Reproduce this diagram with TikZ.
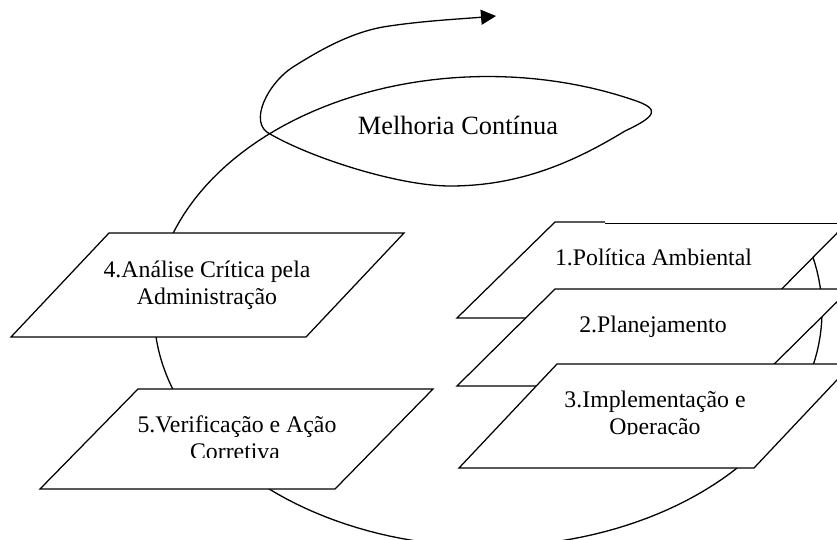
\documentclass[tikz,border=0pt]{standalone}
\usepackage{fontspec}
\setmainfont{Liberation Serif}
\usetikzlibrary{arrows.meta}
\begin{document}
\begin{tikzpicture}[x=1pt,y=-1pt,
  line width=1.25pt,
  stepbox/.style={draw=black, fill=white, line width=1.25pt},
  lbl/.style={anchor=base, inner sep=0pt, font=\fontsize{23.8}{27}\selectfont},
  heading/.style={anchor=base, inner sep=0pt, font=\fontsize{26.4}{30}\selectfont},
  loopline/.style={draw=black, line width=1.3pt, -{Triangle[length=15pt,width=15pt]}}]

\useasboundingbox (0,0) rectangle (837,540);
\fill[white] (0,0) rectangle (837,540);
\clip (0,0) rectangle (837,540);

% continuous improvement cycle: big ellipse ending in a loop and an arrow
\draw[loopline]
  plot[domain=-20:296, samples=160, variable=\t] ({488+334*cos(\t)},{311.5+235*sin(\t)})
  .. controls (660,109) and (657,116) .. (625,131)
  .. controls (574,162) and (520,186) .. (450,186)
  .. controls (400,186) and (313.5,159) .. (270,134)
  .. controls (247.5,123) and (268,83) .. (293,67)
  .. controls (320,50) and (350,33) .. (383,27)
  .. controls (420,21) and (460,19) .. (496,16);

\node[heading] (mc) at (458,135) {Melhoria Contínua};

% left-hand steps
\draw[stepbox] (109,233) -- (404,233) -- (306,337) -- (11,337) -- cycle;
\node[lbl] (t4a) at (207,277) {4.Análise Crítica pela};
\node[lbl] (t4b) at (207,304) {Administração};

\draw[stepbox] (138,389) -- (433,389) -- (335,489) -- (40,489) -- cycle;
\node[lbl] (t5a) at (237,432) {5.Verificação e Ação};
\begin{scope}
  \clip (0,0) rectangle (837,457);
  \node[lbl] (t5b) at (235,459) {Corretiva};
\end{scope}

% right-hand stacked steps
\fill[white] (555,222) -- (848,222) -- (753,318) -- (457,318) -- cycle;
\draw (605,222) -- (555,222) -- (457,318) -- (753,318) -- (848,222);
\draw[line width=0.8pt] (605,223) -- (848,223);
\node[lbl] (t1) at (653.5,265) {1.Política Ambiental};

\draw[stepbox] (555,289) -- (850,289) -- (752,386) -- (457,386) -- cycle;
\node[lbl] (t2) at (653,332) {2.Planejamento};

\draw[stepbox] (557,364) -- (852,364) -- (754,468) -- (459,468) -- cycle;
\node[lbl] (t3a) at (655,407) {3.Implementação e};
\begin{scope}
  \clip (0,0) rectangle (837,434.5);
  \node[lbl] (t3b) at (655,434) {Operação};
\end{scope}
\end{tikzpicture}
\end{document}
